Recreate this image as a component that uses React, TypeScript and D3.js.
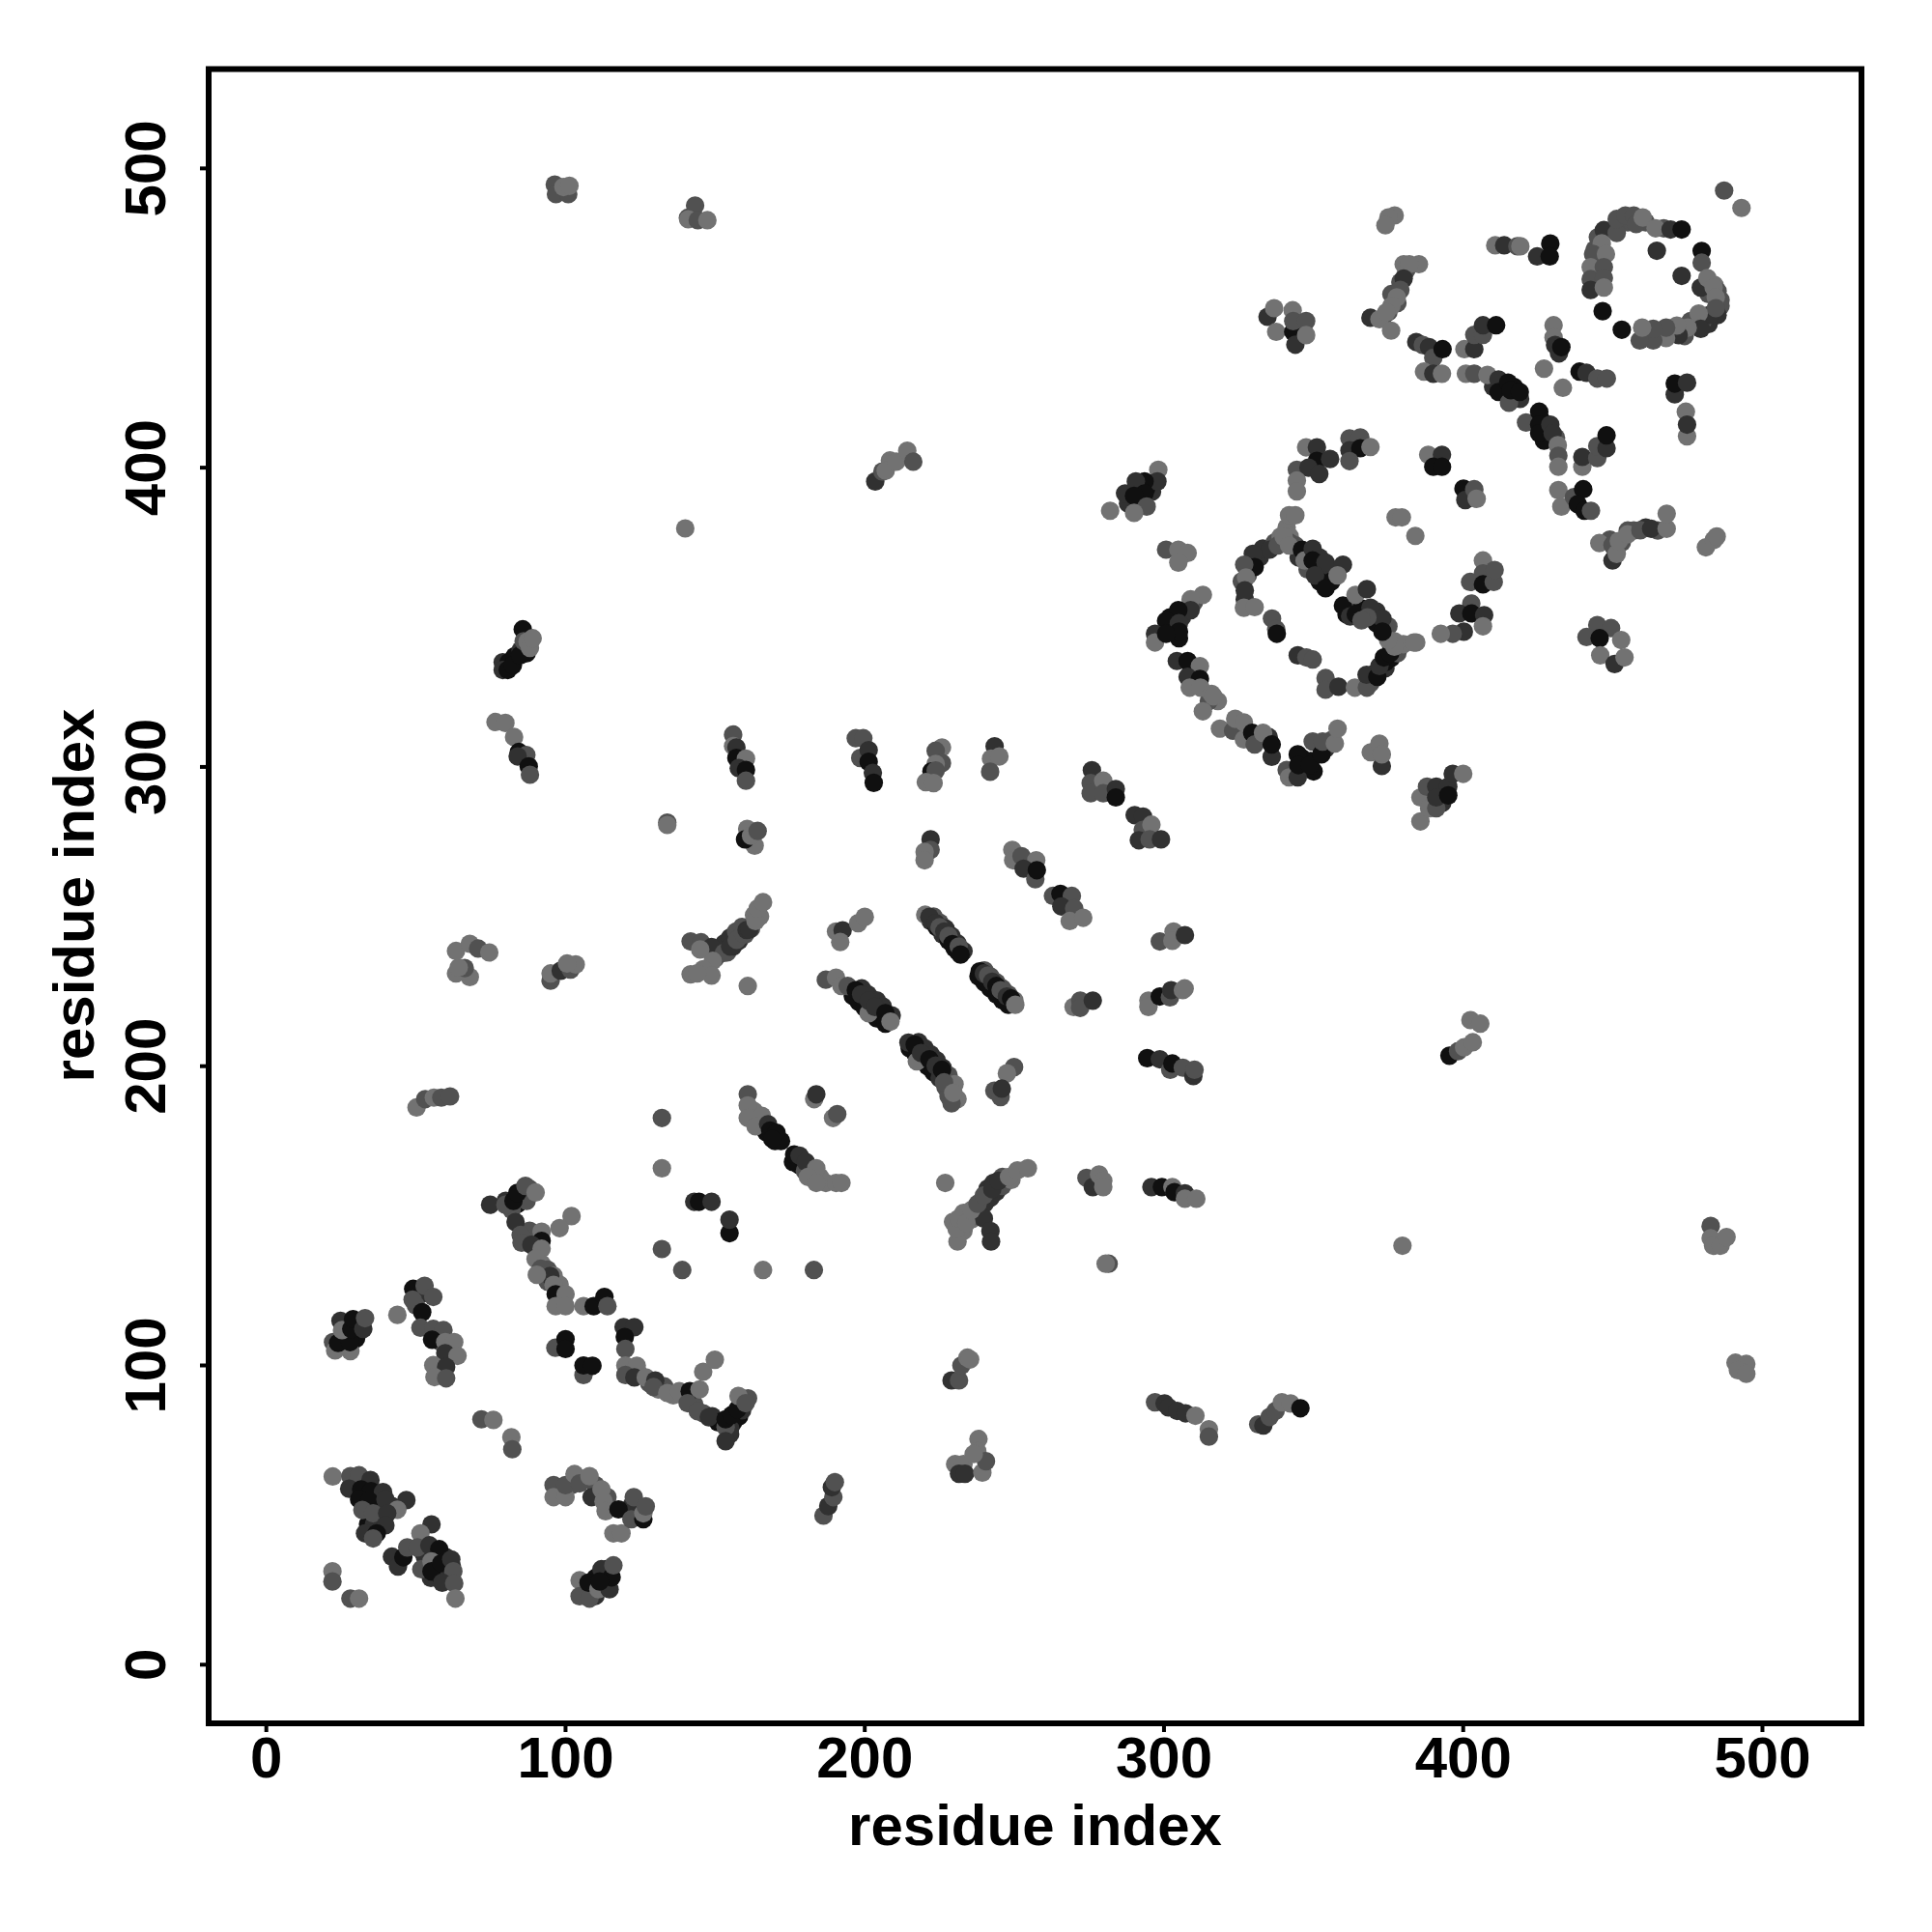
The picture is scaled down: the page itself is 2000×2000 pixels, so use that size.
import React from "react";
import * as d3 from "d3";

// Each contact: [residue i, residue j, score rank 0 (weak) .. 3 (strong)]
const strandFill = [[222,248.5,2],[224,246.5,3],[226,244,2],[228,242,3],[230,239.5,3],[231,238.5,3],[223,250,1],[225,248,1],[227,246,2],[229,243.5,2],[231,241,2],[233,238.5,2],[238,230,3],[240,228,3],[242,226,3],[244,224,3],[246,222,3],[248,220.5,3],[240,232,1],[242,230,1],[244,228,1],[246,226,1],[248,224,1],[250,222,0],[196,223.5,3],[198,221.5,3],[200,219.5,3],[202,218,3],[204,216,3],[207,216,3],[199,226,2],[201,224,2],[204,222,2],[206,220,2],[209,217,2],[215,206,3],[217,204,3],[219,202,3],[221,200,3],[223,198,3],[225,196,2],[227,193,1],[228,190,1],[218,208,2],[220,206,2],[222,204,2],[224,202,2],[226,199.5,2],[228,197,1],[230,194,0],[231,189,0]];
const armFill = [[150,236,1],[152,238,2],[154,238,1],[156,240,2],[158,242,2],[160,244,1],[162,246,1],[151,239,1],[153,241,2],[155,243,2],[157,245,1],[159,246.5,1],[163,250.5,0],[165,250,0],[238,152,1],[240,154,2],[242,156,2],[244,158,2],[246,160,1],[249,162,0],[241,159,2],[243,161,2],[246,163,1],[236,149,0],[233,151,0],[232,147,0],[229.5,148,0],[233,145,0],[237,150,1],[170,175,3],[172,175,3],[167,178,3],[165,181,1],[163,185,0],[176,168,3],[178,167,3],[180,165,1],[182,163,0],[185,163,0],[187,161,0]];
const chainFill = [[86,157,3],[84,154,3],[82,152,1],[80,155,2],[88,159,1],[87,155,1],[88,145,1],[90,143,1],[94,128,1],[92,134,0],[94,132,1],[96,130,0],[98,127,0],[124,98,1],[128,94,1],[131,92,0],[133,93,1],[136,90,0],[142,89,1],[143,87,1],[146,84,1],[149,83,2],[151,81,3],[156,81,3],[158,83,3],[159,85,2],[155,79,2],[155,77,2],[161,89,1]];
const ringFill = [[345,370,2],[351,367,3],[352,370,2],[356,366,2],[352,362,3],[356,362,3],[361,351,3],[363,354,1],[366,353,3],[369,351,3],[371,348,3],[371,352,2],[375,347,1],[348,366,1],[377,342,0],[376,340,2],[374,333,2],[370,331,2],[369,328,1],[374,335,3],[376,336.5,3],[378,338,1],[380,341,0],[332,370,2],[333,373,2],[337,375,1],[339,377,0],[341,380,0],[342,377,0],[344,374,1],[328,364,1],[326,362,1],[327,356,2],[452,481,1],[455,482,1],[458,483,1],[461,482,1],[467,480,1],[482,458,1],[484,461,0],[485,459,1],[486,456,1],[486,454,1],[485,451,2],[482,448,2],[480,449,1],[444,473,1],[445,477,1],[445,469,1],[445,465,1],[445,461,1],[470,446,1],[476,449,1],[478,448,1],[474,444,1]];
const patchFill = [[305,343,3],[303,346,3],[302,350,3],[306,350,2],[310,355,1],[293,392,2],[296,392,2],[292,388,2],[288,388,2],[294,393,3],[410,427,2],[413,426,3],[417,427,3],[419,423,2],[426,416,3],[428,412,2],[431,410,1],[427,409,3],[376,458,1],[378,455,1],[375,452,1],[373,450,1],[381,466,1],[379,462,1],[342,375,1],[453,375,1],[455,379,1],[457,379,1],[461,380,2],[465,379,1],[449,376,1],[451,372,1],[391,291,2],[393,288,2],[388,289,1],[349,302,3],[346,303,3],[350,298.5,3],[341,299,1],[354,306,2],[356,309,1],[335,310,2],[327,312,1],[325,314,0],[318,322,0],[315,322,1],[310,328,2],[309,332,2],[79,335,2],[81,335,3],[83,337,3],[86,340,2],[87,338,3],[85,339,2],[30,60,3],[33,60,3],[37,55,2],[38,50,2],[42,53,2],[34,47,3],[36,47,2],[52,38,1],[53,36,2],[57,36,3],[60,36,2],[55,29,2],[58,30,3],[60,32,2],[62,33,2],[28,110,3],[30,112,2],[26,110,2],[31,114,2],[30,109,3],[52,124,2],[50,120,1],[58,108,1],[61,106,1],[60,101,1],[58,97,1],[108,25,3],[110,23,2],[113,27,3],[114,32,2],[110,29,3],[102,60,1],[106,62,1],[110,60,1],[114,56,1],[124,50,2],[122,53,2]];
const helixA = [[22.2,62.9,0],[28.1,63,1],[31,63.3,1],[34.8,61.7,2],[27.7,58.8,2],[31.7,58.6,3],[35,58,3],[39,57.7,2],[31,55.3,3],[34.4,54.7,3],[39.8,55.3,2],[46.8,55,2],[43.8,51.8,0],[32.1,51.7,1],[35.7,50.6,1],[40.4,50.6,2],[39.8,46.6,2],[33,43.9,2],[36.9,43.9,3],[35.7,42.2,1],[55.2,46.9,2],[51.5,43.9,0],[42,36.1,2],[44,32.8,2],[45.8,35.9,3],[47.1,39.2,1],[50.5,39.2,1],[51.8,31.9,1],[54.5,39.9,2],[57.8,38.6,3],[55.2,34.5,0],[55.2,31.2,3],[58.5,33.9,3],[61.8,35.2,2],[62.5,31.2,1],[58.8,27.4,2],[62.8,27.2,1],[63.2,22.1,0],[22.1,31.2,0],[22.1,27.8,1],[28.1,22.1,1],[31,22.1,0]];
const helixB = [[22.3,107.8,1],[23,105,0],[28.1,104.8,0],[24,107.5,3],[28,107.8,3],[24.8,114.9,2],[25.3,111.8,0],[28.4,112.2,3],[29,115.5,3],[32.4,112.2,2],[33,115.8,1],[43.8,116.9,0],[49.1,125.6,3],[52.9,126.6,1],[55.8,122.9,1],[48.9,122,1],[52.1,117.8,3],[51.5,112.6,1],[55.8,112.2,1],[59.2,111.8,1],[55.4,108.6,3],[59.8,107.8,0],[62.8,107.8,0],[59.8,104.1,2],[63.9,103.2,0],[55.8,100.1,0],[60.1,99.5,2],[56.2,96.1,0],[60.1,95.7,1],[71.9,82,1],[75.9,81.8,0],[81.9,76,0],[82.2,72,1]];
const chainC = [[74.8,153.7,2],[79.9,153.7,1],[82.6,155,3],[83.9,157.7,3],[86.6,160,1],[90,157.8,0],[83.3,147.9,2],[102,149.9,0],[98,145.9,0],[92,144.7,0],[92,141.6,3],[85,143.6,1],[85.3,141,1],[88.6,140.3,2],[92,139,0],[90,135.6,0],[91.7,132.3,1],[94.9,129.9,2],[90.4,130.3,0],[96,126.9,0],[96.7,123.8,3],[100,123.8,0],[96.7,119.8,0],[100,119.8,0],[106,119.8,0],[109.4,119.8,3],[113,122.9,3],[114,119.8,1],[119.4,112.8,2],[123,112.8,2],[119.8,109.5,3],[120,105.5,1],[120,100,0],[123.8,99.9,0],[120,96.8,1],[123,96,2],[126.8,96,0],[130,95,2],[129.4,92.8,1],[134,90.8,0],[138,91.4,0],[141.5,91.4,3],[144.8,92,0],[146,97.9,0],[149.9,101.9,0],[140.8,87.4,1],[144.2,84.7,1],[147.9,82.7,2],[153.5,79.4,1],[153.5,74.7,2],[153.5,82,3],[155.5,83.4,3],[157.5,85.4,3],[157.8,89.8,0],[160.2,87.4,1]];
const patchD = [[96.6,105.9,1],[100,108.8,3],[100,105.5,3],[106,96.8,1],[106,100,3],[109,99.9,3],[96,60,1],[96,56,0],[100,56,0],[100,60,1],[103,63.7,0],[104.7,60.6,1],[108,63,0],[108.7,56,2],[112,58.6,0],[112.7,54.6,0],[113.4,51.3,0],[117.7,51.9,3],[116,43.9,0],[118.7,43.9,0],[122.8,56,1],[122,48.6,1],[126,48.6,3],[126,50.6,0],[126.8,52.9,1],[104.7,28.2,0],[104.7,22.9,1],[108,22.1,1],[107.7,27.4,3],[111,25.2,0],[112,31.9,2],[114.7,25.2,2],[115.4,29.2,3],[116,33.2,1],[111.4,27.8,3]];
const isolatedE = [[134,281.4,1],[134,280.6,0],[132.2,182.7,1],[132.2,165.9,0],[132.2,138.9,1],[139,131.9,1],[166,131.9,0],[183,131.9,1],[160.9,226.8,0],[226.9,161,0],[281.5,134,1],[280.5,134,0],[140,379.7,0],[379.7,140,0]];
const columnsF = [[156,310.8,1],[156,307,0],[157.1,306.5,2],[157.1,303,3],[160.3,302.8,0],[157.9,299.6,2],[160.3,299,3],[160.3,295.4,1],[160.7,279.3,0],[163.2,273.7,0],[160,275.8,3],[162,277,0],[164.2,278.6,1],[197,309.6,1],[199.5,309.6,1],[198.5,303,1],[201.3,305.6,2],[201.3,301.7,3],[202.7,298,2],[203,294.7,3],[225.8,306.5,0],[223.7,305.4,1],[225.8,301.3,1],[223.7,301,0],[222.3,298.5,3],[223.7,298.8,1],[220.4,294.9,0],[223,294.6,0],[243.4,306.9,2],[242.2,302.8,0],[245,303.5,0],[241.9,298.4,1],[222,275.8,2],[222,272.3,1],[220,271.6,0],[220,268.8,0]];
const diagonalG = [[275.9,298.9,2],[275.5,294.6,1],[275.5,291.2,1],[279.7,295.4,0],[279.7,291.2,1],[283.9,292.6,2],[283.9,289.8,3],[290.2,283.9,2],[293,283.4,2],[292.9,279,1],[295.8,280.7,0],[291.6,275.5,2],[295.2,275.8,1],[299,275.8,2],[249.3,272.3,0],[249.6,268.8,0],[252.4,270.2,1],[257.3,268.8,0],[253.1,266,2],[257,262.5,1],[257.5,265.5,3],[262.9,256.9,1],[265.4,257.6,3],[269.2,256.9,1],[265.7,253.4,2],[270,252.7,1],[268.5,248.5,0],[273,249.6,0]];
const armH = [[141.8,241.7,1],[145.3,241.4,1],[148.8,239.8,2],[145,239,0],[153,237.9,1],[155,240,2],[157.2,242.2,1],[159.3,244.3,1],[160.5,245.5,2],[161.4,245.7,2],[163.5,248.5,0],[164.2,252.7,0],[166,254.8,0],[149.2,235.2,0],[146,232.4,0],[141.8,230.7,0],[148.8,230.3,0],[144,231,0],[190.4,245,0],[192.6,245.4,2],[191.8,241.5,0],[197.8,247.8,0],[200,249.9,0]];
const strandI = [[220.2,250.6,0],[221.6,249.9,2],[223.7,247.8,2],[225,246.4,1],[226.6,245,2],[228,243.5,1],[229.3,240.8,3],[231.4,240,1],[232,237.3,3],[238.4,231.7,3],[239.8,231,2],[241.2,230.3,1],[242.6,228.2,2],[244,226.8,3],[245.4,225.4,1],[247.5,223.3,2],[248.9,222.6,3],[250.3,220.5,0]];
const strandJ = [[187,228.9,1],[190.4,229.6,0],[192.2,226.8,0],[194.3,226.8,1],[197,225.4,3],[198.8,224,2],[201.3,217.7,0],[201.3,221.9,2],[203.4,219.8,2],[206.9,217.7,3],[206.9,214.2,3],[208.6,214.9,0],[214.6,207.9,2],[216.7,207.2,3],[217.4,201.6,0],[218.8,204.4,2],[221.6,202.3,3],[223.7,200.2,2],[225.8,198.8,3],[229,187.6,1],[226.5,194.6,1],[229.6,191.1,0],[249.9,199.7,1],[247.5,197.6,0],[243.3,191.8,1],[245.4,189.7,1],[245.8,192.5,2]];
const strandK = [[160.9,190.6,1],[160.9,186.9,0],[160.9,182.7,0],[165.6,183.4,0],[163.5,179.9,0],[167.7,180.6,2],[168.4,178.5,3],[170.5,177.8,3],[169.1,175.7,3],[176.4,170.5,3],[178.2,170.1,2],[180.3,168,2],[183.8,165.9,0],[181,163,0],[183.8,161,0],[190.4,161,0],[192.2,161,0],[183.1,189,0],[183.8,190.6,2],[189.4,182.7,0],[190.8,184,1],[143,154.7,2],[144.6,154.7,3],[148.8,154.7,2],[154.8,144.2,3],[154.8,148.7,2]];
const armL = [[239.8,149.1,2],[242,144.9,2],[242.2,141.4,2],[231,141.4,0],[230.7,145.6,0],[231.4,149.1,0],[234,147.7,0],[235.6,151.9,0],[237.7,154,1],[239.8,156.8,1],[242.6,158.9,2],[244.7,161.7,2],[248.2,163,0],[251,165.2,0],[254.5,165.9,0]];
const shortM = [[274.1,162.7,1],[276.2,159.6,2],[278.3,163.8,0],[279.7,161.7,0],[279.7,159.6,0],[295.8,159.6,2],[299.3,159.6,3],[302.8,159.6,0],[303.5,157.9,3],[307,157.5,2],[307,155.7,0],[310.8,155.7,0],[294.4,202.7,3],[298.6,202.3,2],[302.1,198.8,1],[302.8,200.9,3],[306.3,199.5,1],[309.8,196.7,2],[310.2,198.8,1],[294.8,221.9,0],[294.8,219.8,0],[298.6,223.3,3],[302,223,1],[302.4,225.4,2],[306.3,225.4,0],[306.9,226,0],[298.6,241.7,1],[303.2,245,0],[302.8,241.9,0],[307,243.8,2],[269.8,219.8,0],[272,221.9,1],[272,219.5,1],[276.2,221.9,2]];
const ringTop = [[447,479.4,2],[451.3,478.4,1],[451.3,483.1,1],[454.2,484.3,1],[457,484.3,1],[457.8,481.4,1],[460,483.6,0],[464.3,480,0],[469.3,479.6,2],[473,479.6,3],[446.3,475,0],[443.4,471.4,1],[447.7,471.4,0],[442.6,467,0],[447,467,1],[442.6,463,1],[447,463.4,1],[442.6,459.4,2],[447,460.2,0],[464.7,472.5,2],[473,464.1,2],[479.7,472.4,3],[479.7,468.5,1],[479.4,460.2,2],[481.6,463.4,0],[483.7,460.2,0],[484.4,456.9,0],[482.3,451,2],[484.4,453.3,1],[478.7,451.5,0],[479.4,446.4,2],[475,446.8,0],[472,444.3,2],[471.4,447.5,0],[467.8,443.3,0],[467.8,446.8,1],[463.5,442.5,1],[463.5,446.4,1],[459,442.5,1],[459.8,446.8,0],[453,446.1,3],[446.6,452.3,3],[487.2,492.6,1],[493,486.8,0]];
const groupN = [[410.7,474.3,0],[413.7,474.3,2],[418.1,474,1],[419.1,474,0],[429.1,474.9,3],[424.7,470.6,2],[428.9,470.6,3],[377.1,484.3,0],[375,483.6,0],[374,481,0],[385.2,468,0],[380.1,468,0],[382,468,0],[380.1,463.2,2],[379,459.4,1],[377.8,456.9,0],[369,450.1,2],[372,449.6,0],[376,454,0],[374.3,451.9,0],[375.9,445.8,0],[334.6,450.4,2],[336.8,453.3,0],[337.5,445.4,0],[343,452.6,0],[343.2,445.4,3],[343.9,441.1,2],[343.2,449,1],[347.5,449,1],[347.5,444.3,0]];
const groupO = [[384.3,442,2],[386.5,441,1],[388.6,440.3,2],[390,436.7,1],[393.1,439.6,3],[386.9,432.1,0],[390,431.4,2],[392.9,431.4,0],[400.9,431.4,0],[403.7,431.4,1],[408.1,431,0],[411.8,429.5,2],[411.8,425.3,3],[415.3,421.7,1],[415,428.4,3],[415.9,425.9,3],[418.9,425.3,3],[400.4,439.6,0],[403.7,439.6,2],[403.7,444.4,1],[406.6,444.4,1],[406.6,447.6,2],[411,447.6,3]];
const groupP = [[421,415.1,1],[425.4,418.7,3],[425.4,414.4,3],[425.4,411.5,3],[429.1,414.4,2],[429.9,411.5,2],[431.6,407.5,0],[431.8,404,1],[431.8,400.3,0],[439.8,400.3,0],[439.8,403.6,2],[444.8,403.2,1],[444.8,407.2,1],[447.9,406.5,2],[447.9,410.8,3],[430.2,447.6,0],[430.2,443.5,0],[430.7,441,2],[432,438.2,2],[432.8,440.3,3],[427,433.1,0],[433.3,426.7,0],[438.9,432.1,3],[441.2,431.7,2],[444.8,429.8,1],[448,429.8,1],[470.7,424.5,2],[470.7,428.1,3],[474.8,428.4,2],[474.8,410.5,0],[474.4,418.7,0],[474.8,414.4,2]];
const groupQ = [[431.8,392.5,0],[432.8,387,0],[437,390.2,1],[440.1,392.8,3],[438.3,387.8,3],[440.5,385.6,3],[442.7,385.6,1],[445.5,374.8,0],[449.9,369,2],[449.9,374.1,1],[451.3,371.2,0],[452,375.5,0],[454.9,377.7,0],[459.2,379.1,1],[462.8,379.6,2],[468,379.6,0],[468,384.6,0],[481.1,373.4,0],[483.7,375.8,0],[484.7,377,0],[444.8,347.4,1],[449.4,346.4,1],[441.2,343.4,1],[445.6,343,3],[452.8,342.4,0],[445.8,337.3,0],[450.6,334.4,2],[453.9,336.6,0]];
const ringMid = [[341.8,384.1,0],[343.9,384.1,0],[335.3,372.6,2],[338,374,1],[340,376.9,0],[341.8,374,0],[329.7,371.2,2],[330.3,366.8,3],[326.8,367.6,1],[327.4,363.3,0],[327,359,2],[326.7,353.2,0],[330.3,353.4,0],[336.1,349.6,1],[337.5,346,1],[337.7,344.5,3],[344.7,337.3,2],[347.6,336.6,1],[349.7,335.9,1],[354,329.7,1],[354,325.8,1],[358.3,326.8,2],[363.8,326.5,0],[367.8,326.5,1],[367.7,330.8,2],[371.3,330.1,3],[372,333.7,2],[373.5,336.6,3],[375.6,338,3],[377,340.2,0],[374.9,342.4,0],[384.3,341.6,0],[383.5,341.6,0]];
const ringInner = [[346.1,372.6,3],[347,369,0],[349.7,372.9,2],[349.7,369,3],[354,368.3,2],[350.5,364,2],[354,359.7,3],[359.8,367.6,2],[358,364,0],[359.8,353.9,3],[364,357.5,0],[367.8,359.4,2],[362.2,350.3,2],[364.1,351,3],[369,353.2,2],[373,349.6,2],[368,350,1],[373,345.2,3],[366,349,1]];
const groupR = [[298.1,399.3,0],[297.8,395.4,2],[293.5,395.4,3],[290.6,395.4,2],[287,391.4,2],[293.5,391.4,3],[290,390.6,3],[294.2,387,1],[290,384.9,0],[282,385.6,0],[300.7,372.6,1],[304.8,372.6,0],[307.9,371.5,0],[304.8,368.3,0],[313,357.5,0],[308.9,356,0],[308.9,352.4,2],[304.8,352.4,3],[300.7,348.8,3],[305,348,2],[305,345.2,3],[297,344.5,2],[297,341.6,0],[300.7,344.5,3],[304.3,335.4,2],[307.9,335.4,3],[312,333.7,0],[307.9,330.1,2],[312,329.4,3],[308.6,326.5,0],[312.2,326.5,0],[315.9,324.4,0],[316.5,323.6,0],[313,318.6,0]];
const groupS = [[318.7,312.8,0],[323.1,312.1,1],[323.8,316.1,0],[326.7,309.2,0],[326.7,314.9,0],[329.5,311.4,3],[330.3,307.5,1],[333.1,311.4,0],[336,303.4,2],[336,307.5,3],[341.8,296.5,0],[344.7,296.5,2],[344.7,304.2,3],[344.9,300.6,3],[348.7,300.6,3],[349.7,308.5,1],[352.6,304.2,3],[353,308.5,1],[357.1,307.8,0],[358,312.8,0],[369.1,304.9,0],[372,307.8,0],[372.8,300.3,2],[372.8,304.2,0],[385.7,281.8,0],[385.7,289.8,0],[388.6,286.2,0],[387.9,293.4,1],[391,286.2,1],[391,293.4,2],[391,289.8,2],[395,293.4,2],[395,290.5,3],[396.5,297.7,2],[400,297.7,0]];
const groupT = [[388.3,404.3,0],[392.9,404.3,2],[390,400.3,3],[392.9,400.3,3],[400.1,393,3],[400.7,389.2,2],[403.7,392.8,1],[404.5,389.6,0],[377.4,383.4,0],[379.5,383.4,0],[384,377.2,0],[347.5,406.8,0],[351.1,406.8,2],[351.1,402.3,3],[355.5,402.9,2],[344.4,399.3,1],[348.3,400,2],[351.9,397.9,2],[344.4,395.7,0],[344.4,392.1,0],[362,409.8,1],[365.6,410.1,1],[362,405.8,2],[365.6,406.5,3],[369,406.9,0],[362,402.2,1],[406.6,369,0],[406.6,364.7,1],[402.3,361.8,1],[406.6,361,3],[410.2,361.8,1],[410.5,365.8,1],[402.7,354.6,1],[398.7,351.3,2],[402.7,351.3,3],[407,350.7,2],[406.6,347,0],[400.2,345.2,2],[396.5,344.5,1],[392.5,344.5,0]];
const farU = [[96.4,494.6,1],[96.8,491.4,1],[100.9,491.4,1],[99.3,493.8,0],[101.3,494.2,0],[140.9,483.5,1],[143.3,487.6,1],[141,483,0],[144.2,482.7,1],[147.4,482.7,0],[203.5,395.4,2],[205.9,398.7,1],[208.4,402.4,0],[207,399,0],[210.5,402,0],[214.2,405.7,0],[216.2,402,1],[79,332.4,2],[80.7,332.4,3],[82.4,334,3],[84.8,337.3,3],[85.7,346,3],[86,342,1],[87.3,341.9,0],[88.1,339.8,0],[89,343,0],[76.6,315,0],[79.9,314.7,0],[82.8,310,0],[84.4,305,3],[86.9,304,1],[84,303.5,2],[87.7,300.2,3],[88.1,297.4,1],[63.4,231,0],[68,229.8,0],[66.3,232.8,1],[64.3,233,0],[63.4,238.5,0],[68,240.9,0],[70.8,239.3,1],[74.5,238,0],[95,228.6,1],[95,231,0],[98.4,231.9,2],[101.7,232.3,1],[103.4,234,0],[100.5,234.3,0],[50.2,186.2,0],[53.1,189,1],[56,189.5,0],[58.5,189.5,1],[61.4,189.9,1]];
const farV = [[186.2,49.8,1],[187.8,53,2],[189.5,56,1],[189,59.3,2],[190,61,1],[229,95,2],[231.5,95,1],[232.3,100,1],[234.3,102.6,0],[235.2,102,0],[230.2,67,0],[233,67,0],[231.5,63.8,2],[233.5,63.8,2],[238,75.4,0],[237.6,71.3,0],[239.3,64.2,0],[240.5,68,1],[236.4,70.4,0],[297,87.7,1],[300.2,87.3,2],[301.5,86,2],[304.4,84.8,2],[307.2,84,2],[310.5,83.2,0],[315,78.7,0],[315,76.2,1],[331.5,80.3,1],[333.2,79.9,2],[335.3,82.8,1],[337.3,84.8,1],[339.4,87.7,0],[342.3,87.3,0],[345.6,85.7,3],[482.7,146.6,1],[482.7,142.5,0],[483.5,140,0],[486,140,0],[488,142.9,0],[491,100.9,0],[494.6,100.5,0],[491.8,98.4,0],[494.6,97.2,0],[395.4,203.5,3],[398.3,205,1],[400.3,206.3,0],[403.2,208,0],[402.4,215.4,0],[405.7,214.2,0]];

const contactGroups = [strandFill, armFill, chainFill, ringFill, patchFill, helixA, helixB, chainC, patchD, isolatedE, columnsF, diagonalG, armH, strandI, strandJ, strandK, armL, shortM, ringTop, groupN, groupO, groupP, groupQ, ringMid, ringInner, groupR, groupS, groupT, farU, farV];
const tickValues = [0, 100, 200, 300, 400, 500];
const axisTitle = "residue index";

const FONT = "'Liberation Sans', Arial, sans-serif";

export default function App() {
  const x = d3.scaleLinear().domain([-19.27, 533.1]).range([216, 1927]);
  const y = d3.scaleLinear().domain([-19.6, 533.2]).range([1784, 71.5]);
  const shade = d3.scaleLinear<string>().domain([0, 3]).range(["#727272", "#101010"]);
  return (
    <svg width={2000} height={2000} style={{ position: "absolute", left: 0, top: 0, background: "#fff" }}>
      {contactGroups.map((group, g) => (
        <g key={g}>
          {group.map((d, i) => (
            <circle key={i} cx={x(d[0])} cy={y(d[1])} r={9.6} fill={shade(d[2])} />
          ))}
        </g>
      ))}
      <rect x={216} y={71.5} width={1711} height={1712.5} fill="none" stroke="#000" strokeWidth={6} />
      {tickValues.map((t) => (
        <g key={"x" + t}>
          <line x1={x(t)} x2={x(t)} y1={1784} y2={1793} stroke="#000" strokeWidth={4} />
          <text x={x(t)} y={1840} textAnchor="middle" fontFamily={FONT} fontWeight="bold" fontSize={60}>{t}</text>
        </g>
      ))}
      {tickValues.map((t) => (
        <g key={"y" + t}>
          <line x1={207} x2={216} y1={y(t)} y2={y(t)} stroke="#000" strokeWidth={4} />
          <text transform={`translate(171,${y(t)}) rotate(-90)`} textAnchor="middle" fontFamily={FONT} fontWeight="bold" fontSize={60}>{t}</text>
        </g>
      ))}
      <text x={1071.5} y={1910} textAnchor="middle" fontFamily={FONT} fontWeight="bold" fontSize={60}>{axisTitle}</text>
      <text transform="translate(97,927) rotate(-90)" textAnchor="middle" fontFamily={FONT} fontWeight="bold" fontSize={60}>{axisTitle}</text>
    </svg>
  );
}
